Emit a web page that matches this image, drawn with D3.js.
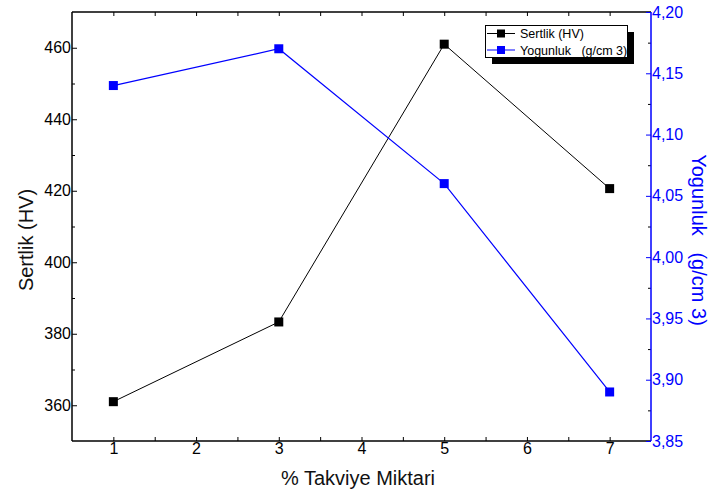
<!DOCTYPE html>
<html><head><meta charset="utf-8">
<script src="https://cdn.jsdelivr.net/npm/d3@7"></script>
<style>body{margin:0;background:#fff}svg{display:block;font-family:"Liberation Sans",Arial,sans-serif}</style>
</head><body><svg id="c" width="710" height="493"></svg>
<script>
const xValues = [1, 3, 5, 7];
const sertlik = [361, 383.3, 461, 420.6];
const yogunluk = [4.14, 4.17, 4.06, 3.89];
const xTicks = [1, 2, 3, 4, 5, 6, 7];
const leftTicks = [360, 380, 400, 420, 440, 460];
const rightTicks = [3.85, 3.90, 3.95, 4.00, 4.05, 4.10, 4.15, 4.20];

const svg = d3.select("#c");
const L = 72, R = 651, T = 12, B = 441;
const x = d3.scaleLinear().domain([0.5, 7.5]).range([L, R]);
const yL = d3.scaleLinear().domain([350, 470]).range([B, T]);
const yR = d3.scaleLinear().domain([3.85, 4.20]).range([B, T]);
const blue = "#0000ff";
const FONT = "Liberation Sans, Arial, sans-serif";

function minorTicks(arr, step) { const out=[]; for (let i=0;i<arr.length-1;i++) out.push(arr[i]+step); return out; }

// bottom axis
const gB = svg.append("g").attr("transform", `translate(0,${B})`)
  .call(d3.axisBottom(x).tickValues(xTicks).tickSize(-5).tickPadding(2).tickFormat(d3.format("d")));
gB.selectAll(".tick line").remove();
gB.select(".domain").remove();
svg.append("g").attr("transform", `translate(0,${B})`)
  .call(d3.axisBottom(x).tickValues(d3.range(1, 7.5, 0.5)).tickSize(-4).tickFormat(""))
  .call(g => g.select(".domain").remove());
// top axis
svg.append("g").attr("transform", `translate(0,${T})`)
  .call(d3.axisTop(x).tickValues(d3.range(1, 7.5, 0.5)).tickSize(-4).tickFormat(""))
  .call(g => g.select(".domain").remove());
svg.append("line").attr("x1", L).attr("x2", R).attr("y1", T).attr("y2", T).attr("stroke", "#000").attr("stroke-width", 1.5);
svg.append("line").attr("x1", L).attr("x2", R).attr("y1", B).attr("y2", B).attr("stroke", "#000").attr("stroke-width", 1.5);

// left axis
const gL = svg.append("g").attr("transform", `translate(${L},0)`)
  .call(d3.axisLeft(yL).tickValues(leftTicks).tickSize(-5).tickPadding(1));
svg.append("g").attr("transform", `translate(${L},0)`)
  .call(d3.axisLeft(yL).tickValues([370,390,410,430,450]).tickSize(-3).tickFormat(""))
  .call(g => g.select(".domain").remove());
gL.select(".domain").remove();
svg.append("line").attr("x1", L).attr("x2", L).attr("y1", T).attr("y2", B).attr("stroke", "#000").attr("stroke-width", 1.5);

// right axis
const gR = svg.append("g").attr("transform", `translate(${R},0)`)
  .call(d3.axisRight(yR).tickValues(rightTicks).tickSize(-5).tickPadding(1).tickFormat(d => d3.format(".2f")(d).replace(".", ",")));
svg.append("g").attr("transform", `translate(${R},0)`)
  .call(d3.axisRight(yR).tickValues(minorTicks(rightTicks, 0.025)).tickSize(-3).tickFormat(""))
  .call(g => g.select(".domain").remove());
gR.select(".domain").remove();
gR.selectAll("text").attr("fill", blue);
gR.selectAll(".tick line").attr("stroke", blue);
svg.append("line").attr("x1", R).attr("x2", R).attr("y1", T).attr("y2", B).attr("stroke", blue).attr("stroke-width", 1.5);

svg.selectAll(".tick text").attr("font-size", 16).attr("font-family", FONT);
svg.selectAll(".tick line").filter(function(){return !this.getAttribute("stroke") || this.getAttribute("stroke")==="currentColor";}).attr("stroke", "#000");

// titles
svg.append("text").attr("x", 358).attr("y", 485).attr("text-anchor", "middle").attr("font-size", 20).attr("fill", "#111").text("% Takviye Miktari");
svg.append("text").attr("transform", `translate(33,240) rotate(-90)`).attr("text-anchor", "middle").attr("font-size", 20).attr("fill", "#111").text("Sertlik (HV)");
svg.append("text").attr("transform", `translate(692,240) rotate(90)`).attr("text-anchor", "middle").attr("font-size", 20).attr("fill", blue).style("white-space","pre").text("Yogunluk   (g/cm 3)");

// series
const lineL = d3.line().x((d, i) => x(xValues[i])).y(d => yL(d));
const lineR = d3.line().x((d, i) => x(xValues[i])).y(d => yR(d));
svg.append("path").datum(sertlik).attr("d", lineL).attr("fill", "none").attr("stroke", "#000").attr("stroke-width", 1);
svg.append("path").datum(yogunluk).attr("d", lineR).attr("fill", "none").attr("stroke", blue).attr("stroke-width", 1.2);
const ms = 9;
svg.selectAll(".mL").data(sertlik).join("rect").attr("x", (d, i) => x(xValues[i]) - ms/2).attr("y", d => yL(d) - ms/2).attr("width", ms).attr("height", ms).attr("fill", "#000");
svg.selectAll(".mR").data(yogunluk).join("rect").attr("x", (d, i) => x(xValues[i]) - ms/2).attr("y", d => yR(d) - ms/2).attr("width", ms).attr("height", ms).attr("fill", blue);

// legend
const lg = svg.append("g");
lg.append("rect").attr("x", 492).attr("y", 32).attr("width", 142).attr("height", 32).attr("fill", "#000");
lg.append("rect").attr("x", 485.5).attr("y", 25.5).attr("width", 142).attr("height", 32).attr("fill", "#fff").attr("stroke", "#000").attr("stroke-width", 1);
const items = [{name: "Sertlik (HV)", c: "#000"}, {name: "Yogunluk   (g/cm 3)", c: blue}];
items.forEach((it, i) => {
  const cy = 33.5 + i * 16.5;
  lg.append("line").attr("x1", 487).attr("x2", 515).attr("y1", cy).attr("y2", cy).attr("stroke", it.c).attr("stroke-width", 1);
  lg.append("rect").attr("x", 497).attr("y", cy - 4).attr("width", 8).attr("height", 8).attr("fill", it.c);
  lg.append("text").attr("x", 520).attr("y", cy + 4.5).attr("font-size", 12.5).attr("font-family", FONT).style("white-space", "pre").text(it.name);
});
</script></body></html>
